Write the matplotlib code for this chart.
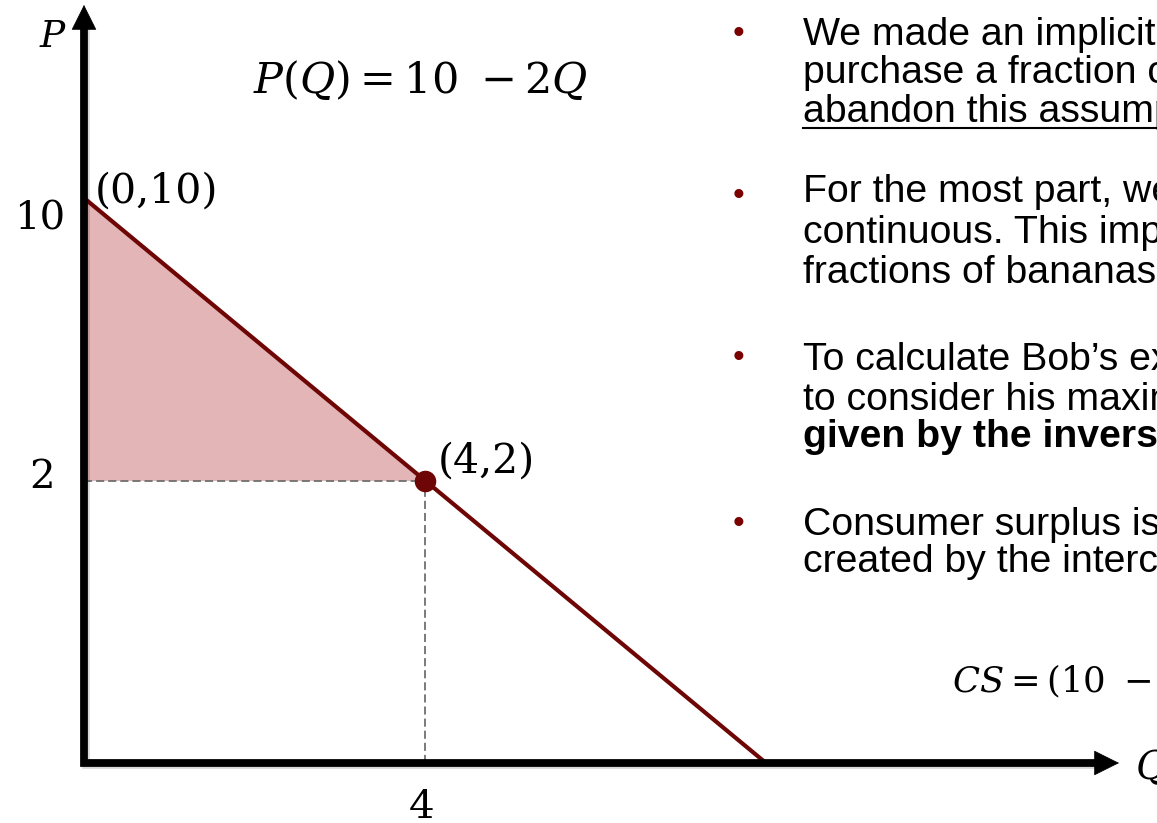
import numpy as np
import matplotlib
matplotlib.use("Agg")
import matplotlib.pyplot as plt
from matplotlib.lines import Line2D
from matplotlib import patheffects as pe

# ---------------- data ----------------
demand_q = [0, 4, 8]
demand_p = [10, 2, 0]
eq_q = 4
eq_p = 2
cs_q = [0, 4]
cs_top = [10, 2]
cs_bottom = 2
p_tick_values = [10, 2]
p_tick_labels = ["10", "2"]
q_tick_values = [4]
q_tick_labels = ["4"]
point_label_q = [0, 4]
point_label_p = [10, 2]
point_label_text = ["(0,10)", "(4,2)"]
equation_text = r"$P(Q) = 10\ -2Q$"
cs_text = r"$CS = (10\ -2)\times 4\ /\ 2 = 16$"
axis_label_p = "P"
axis_label_q = "Q"

bullet_lines = [
    ["We made an implicit assumption that Bob could not",
     "purchase a fraction of a banana. We now",
     "abandon this assumption."],
    ["For the most part, we will assume goods are",
     "continuous. This implies that Bob can buy",
     "fractions of bananas."],
    ["To calculate Bob\u2019s expenditure, we need",
     "to consider his maximum willingness to pay,",
     "given by the inverse demand curve."],
    ["Consumer surplus is the area of the triangle",
     "created by the intercepts."],
]

# ---------------- figure ----------------
W, H = 1157, 823
fig = plt.figure(figsize=(W / 100, H / 100), dpi=100)
fig.patch.set_facecolor("white")
plt.rcParams["mathtext.fontset"] = "dejavuserif"

def fx(px):
    return px / W

def fy(py):
    return 1 - py / H

ax = fig.add_axes([84 / W, 60 / H, 1073 / W, 763 / H])
ax.set_facecolor("none")

# schematic (non-proportional) price axis, as in the original slide
def fwd(p):
    p = np.asarray(p, dtype=float)
    return np.where(p <= 2, 2.5 * p, 5 + (p - 2) * 0.625)

def inv(f):
    f = np.asarray(f, dtype=float)
    return np.where(f <= 5, f / 2.5, 2 + (f - 5) / 0.625)

ax.set_yscale("function", functions=(fwd, inv))
ax.set_xlim(0, 1073 / 85.25)
ax.set_ylim(0, float(inv(763 / 56.5)))
for s in ax.spines.values():
    s.set_visible(False)
ax.set_xticks([])
ax.set_yticks([])
ax.minorticks_off()

LINE = "#6E0606"
FILL = "#E4B5B6"
DASH = "#707070"

# consumer surplus area
ax.fill_between(cs_q, cs_top, cs_bottom, color=FILL, lw=0, zorder=1)

# dashed guides
ax.plot([0, eq_q], [eq_p, eq_p], ls=(0, (4.5, 2.2)), color=DASH, lw=1.3, zorder=2)
ax.plot([eq_q, eq_q], [0, eq_p], ls=(0, (4.5, 2.2)), color=DASH, lw=1.3, zorder=2)

# demand curve
ax.plot(demand_q, demand_p, color=LINE, lw=3.0, zorder=3, solid_capstyle="butt")
ax.plot([eq_q], [eq_p], "o", ms=14.5, color=LINE, zorder=4)

# axes with arrows
shadow = [pe.SimpleLineShadow(offset=(1.5, -1.5), shadow_color="k", alpha=0.15), pe.Normal()]
ax.plot([0, 0, 0.946], [0.965, 0, 0], transform=ax.transAxes, color="black", lw=5.6,
        solid_joinstyle="miter", solid_capstyle="butt", zorder=5, clip_on=False,
        path_effects=shadow)
head = dict(arrowstyle="-|>,head_length=1.0,head_width=0.5", mutation_scale=17,
            color="black", lw=0.5, shrinkA=0, shrinkB=0)
ax.annotate("", xy=(0, 0.9935), xytext=(0, 0.955), xycoords="axes fraction",
            arrowprops=head, zorder=6, annotation_clip=False)
ax.annotate("", xy=(0.9646, 0), xytext=(0.93, 0), xycoords="axes fraction",
            arrowprops=head, zorder=6, annotation_clip=False)

serif = "DejaVu Serif"

# tick labels
tick_offsets = {"10": (-19, -32), "2": (-29, -7)}
for v, lab in zip(p_tick_values, p_tick_labels):
    ax.annotate(lab, xy=(0, v), xytext=tick_offsets[lab], textcoords="offset pixels",
                ha="right", va="baseline", fontsize=29, family=serif, annotation_clip=False)
for v, lab in zip(q_tick_values, q_tick_labels):
    ax.annotate(lab, xy=(v, 0), xytext=(-3, -55), textcoords="offset pixels",
                ha="center", va="baseline", fontsize=29, family=serif, annotation_clip=False)

# point labels
label_offsets = [(11, -5), (13, 8)]
for q, p, t, off in zip(point_label_q, point_label_p, point_label_text, label_offsets):
    ax.annotate(t, xy=(q, p), xytext=off, textcoords="offset pixels",
                ha="left", va="baseline", fontsize=29.5, family=serif, zorder=7,
                annotation_clip=False)

# axis labels and equations
fig.text(fx(39), fy(47), "$" + axis_label_p + "$", fontsize=27, ha="left", va="baseline")
fig.text(fx(1135), fy(779), "$" + axis_label_q + "$", fontsize=28, ha="left", va="baseline")
fig.text(fx(253), fy(93), equation_text, fontsize=31, ha="left", va="baseline")
fig.text(fx(952), fy(692), cs_text, fontsize=25.5, ha="left", va="baseline")

# bullet text
sans = "Liberation Sans"
baselines = [[45, 83, 122], [202, 243, 283], [370, 410, 447], [535, 572]]
bullet_y = [34, 196, 359, 524]
for para, ys, by in zip(bullet_lines, baselines, bullet_y):
    fig.text(fx(738), fy(by), "\u2022", fontsize=24, color="#7A0000",
             ha="center", va="center", family=sans)
    for i, (line, y) in enumerate(zip(para, ys)):
        bold = (para is bullet_lines[2] and i == 2)
        fig.text(fx(803), fy(y), line, fontsize=28.3, family=sans, ha="left",
                 va="baseline", fontweight="bold" if bold else "normal")

# underline of "abandon this assumption"
fig.add_artist(Line2D([fx(803), 1.0], [fy(128), fy(128)], transform=fig.transFigure,
                      color="black", lw=1.5))

fig.savefig("out.png", dpi=100)
